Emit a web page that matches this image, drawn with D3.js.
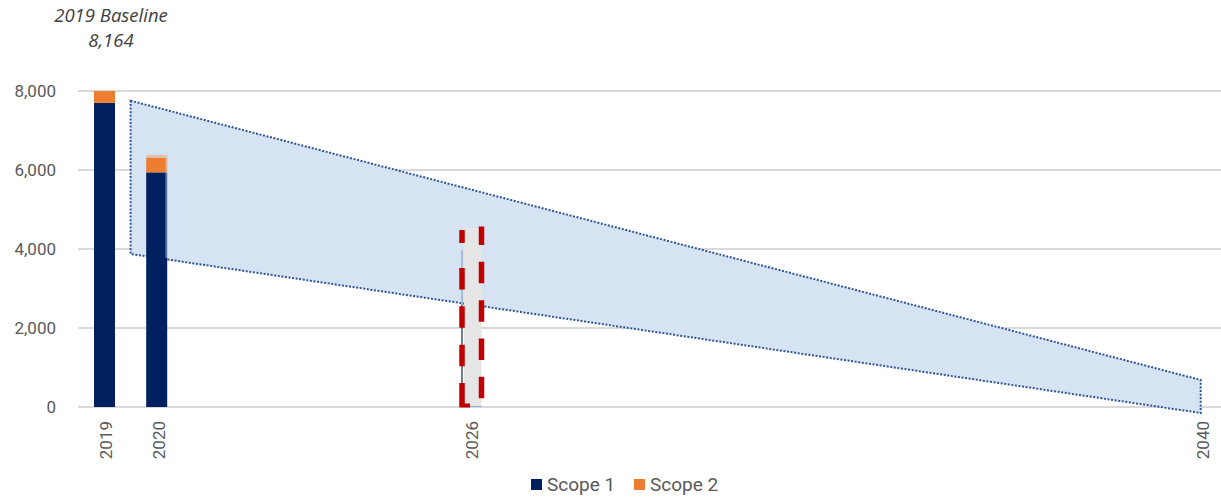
<!DOCTYPE html>
<html>
<head>
<meta charset="utf-8">
<script src="https://cdn.jsdelivr.net/npm/d3@7/dist/d3.min.js"></script>
<style>
  html, body { margin: 0; padding: 0; background: #ffffff; }
  svg { display: block; }
</style>
</head>
<body>
<svg id="chart" width="1221" height="497"></svg>
<script>
// Emissions by year (tCO2e)
const barYears = [2019, 2020];
const scope1 = [7700, 5940];
const scope2 = [464, 370];
const restated2020 = 6386;
const axisYears = [2019, 2020, 2026, 2040];
const yTicks = [0, 2000, 4000, 6000, 8000];
const seriesNames = ["Scope 1", "Scope 2"];
const seriesColors = ["#002060", "#ed7d31"];

// Reduction corridor: upper and lower bounds from mid-2019 to 2040
const corridorYears = [2019.5, 2040];
const corridorUpper = [7754, 684];
const corridorLower = [3873, -152];

// 2026 interim target placeholder
const targetYear = 2026;
const targetBox = 4530;
const targetBar = 3970;

const baselineLabel = ["2019 Baseline", "8,164"];

const svg = d3.select("#chart");
const x = d3.scaleLinear().domain([2019, 2040]).range([104.5, 1200.7]);
const y = d3.scaleLinear().domain([0, 8000]).range([407, 91]);
const barW = 21;
const lowerAt = t => corridorLower[0] + (corridorLower[1] - corridorLower[0]) * (t - corridorYears[0]) / (corridorYears[1] - corridorYears[0]);

// gridlines
svg.append("g")
  .selectAll("line")
  .data(yTicks)
  .join("line")
  .attr("x1", 78).attr("x2", 1221)
  .attr("y1", d => y(d)).attr("y2", d => y(d))
  .attr("stroke", "#d9d9d9")
  .attr("stroke-width", 2);

// y axis labels
const yAxis = d3.axisLeft(y).tickValues(yTicks).tickFormat(d3.format(",")).tickSize(0).tickPadding(0);
svg.append("g")
  .attr("transform", "translate(56,0)")
  .call(yAxis)
  .call(g => g.select(".domain").remove())
  .call(g => g.selectAll("text")
    .attr("fill", "#595959")
    .style("font-family", "Roboto, sans-serif")
    .style("font-size", "17px"));

// x axis labels (rotated)
const xAxis = d3.axisBottom(x).tickValues(axisYears).tickFormat(d3.format("d")).tickSize(0).tickPadding(0);
svg.append("g")
  .attr("transform", "translate(1.5,0)")
  .call(xAxis)
  .call(g => g.select(".domain").remove())
  .call(g => g.selectAll("text")
    .attr("transform", "translate(0,421) rotate(-90)")
    .attr("x", 0).attr("y", 0).attr("dy", "0.35em")
    .attr("text-anchor", "end")
    .attr("fill", "#595959")
    .style("font-family", "Roboto, sans-serif")
    .style("font-size", "17px"));

// corridor polygon
const corridorPts = [
  [corridorYears[0], corridorUpper[0]],
  [corridorYears[1], corridorUpper[1]],
  [corridorYears[1], corridorLower[1]],
  [corridorYears[0], corridorLower[0]]
];
svg.append("path")
  .attr("d", d3.line().x(d => x(d[0])).y(d => y(d[1]))(corridorPts) + "Z")
  .attr("fill", "#d6e3f3")
  .attr("stroke", "#2f5597")
  .attr("stroke-width", 2)
  .attr("stroke-dasharray", "2 1.6");

// stacked bars, clipped to the plot top
svg.append("clipPath").attr("id", "plotClip")
  .append("rect").attr("x", 0).attr("y", y(8000)).attr("width", 1221).attr("height", y(0) - y(8000) + 20);

const stacked = barYears.map((yr, i) => ({ yr, s1: scope1[i], s2: scope2[i] }));

// faint restated outline behind the 2020 bar
svg.append("rect")
  .attr("x", x(2020) - barW / 2).attr("width", barW + 0.8)
  .attr("y", y(restated2020)).attr("height", y(scope1[1] + scope2[1]) - y(restated2020))
  .attr("fill", "#dcc3b6");

const bars = svg.append("g").attr("clip-path", "url(#plotClip)");
bars.selectAll("rect.s1").data(stacked).join("rect")
  .attr("x", d => x(d.yr) - barW / 2).attr("width", barW)
  .attr("y", d => y(d.s1)).attr("height", d => y(0) - y(d.s1))
  .attr("fill", seriesColors[0]);
bars.selectAll("rect.s2").data(stacked).join("rect")
  .attr("x", d => x(d.yr) - barW / 2).attr("width", barW)
  .attr("y", d => y(d.s1 + d.s2)).attr("height", d => y(d.s1) - y(d.s1 + d.s2))
  .attr("fill", seriesColors[1]);

// light edge on the right of the 2020 bar, inside the corridor
svg.append("rect")
  .attr("x", x(2020) + barW / 2 - 1.8).attr("width", 2.2)
  .attr("y", y(restated2020)).attr("height", y(lowerAt(2020)) - y(restated2020))
  .attr("fill", "#d6e3f3").attr("opacity", 0.45);

// 2026 target placeholder
const tx = x(targetYear) + 1.8;
const xl = tx - 9.7, xr = tx + 9.8;
const boxTop = y(targetBox);
svg.append("rect")
  .attr("x", xl + 2).attr("width", xr - xl - 2)
  .attr("y", boxTop).attr("height", y(0) - boxTop)
  .attr("fill", "#e7e6e6");
svg.append("line")
  .attr("x1", xl).attr("x2", xl)
  .attr("y1", y(targetBar)).attr("y2", y(lowerAt(targetYear)))
  .attr("stroke", "#8eaad0").attr("stroke-width", 1.3);
svg.append("line")
  .attr("x1", xl).attr("x2", xl)
  .attr("y1", y(lowerAt(targetYear))).attr("y2", y(0))
  .attr("stroke", "#1f3a70").attr("stroke-width", 1.3);
svg.append("line")
  .attr("x1", xl).attr("x2", xr)
  .attr("y1", y(0) - 0.5).attr("y2", y(0) - 0.5)
  .attr("stroke", "#8eaad0").attr("stroke-width", 1);

const dash = g => g
  .attr("fill", "none")
  .attr("stroke", "#c00000")
  .attr("stroke-width", 5.5);
// right side
svg.append("line")
  .attr("x1", xr).attr("x2", xr)
  .attr("y1", boxTop - 1.5).attr("y2", y(0))
  .call(dash)
  .attr("stroke-dasharray", "21.5 16.8")
  .attr("stroke-dashoffset", 3);
// left side
svg.append("line")
  .attr("x1", xl).attr("x2", xl)
  .attr("y1", boxTop + 2).attr("y2", y(0) - 1)
  .call(dash)
  .attr("stroke-dasharray", "13 25 21.5 16.8 21.5 16.8 21.5 16.8 21.5 16.8");
// bottom-left corner
svg.append("line")
  .attr("x1", xl - 2.7).attr("x2", xl + 8)
  .attr("y1", y(0) - 1.5).attr("y2", y(0) - 1.5)
  .attr("stroke", "#c00000").attr("stroke-width", 4);

// baseline annotation
svg.append("text")
  .attr("x", 111).attr("y", 22)
  .attr("text-anchor", "middle")
  .attr("fill", "#404040")
  .style("font-family", "'Open Sans', sans-serif")
  .style("font-style", "italic")
  .style("font-size", "18.5px")
  .selectAll("tspan").data(baselineLabel).join("tspan")
  .attr("x", 111).attr("dy", (d, i) => i === 0 ? 0 : 25)
  .text(d => d);

// legend
const legend = svg.append("g").attr("transform", "translate(531,479)");
const items = legend.selectAll("g").data(seriesNames).join("g")
  .attr("transform", (d, i) => `translate(${i * 103},0)`);
items.append("rect").attr("width", 11).attr("height", 11).attr("fill", (d, i) => seriesColors[i]);
items.append("text")
  .attr("x", 16).attr("y", 5.5).attr("dy", "0.36em")
  .attr("fill", "#595959")
  .style("font-family", "Roboto, sans-serif")
  .style("font-size", "19px")
  .text(d => d);
</script>
</body>
</html>
